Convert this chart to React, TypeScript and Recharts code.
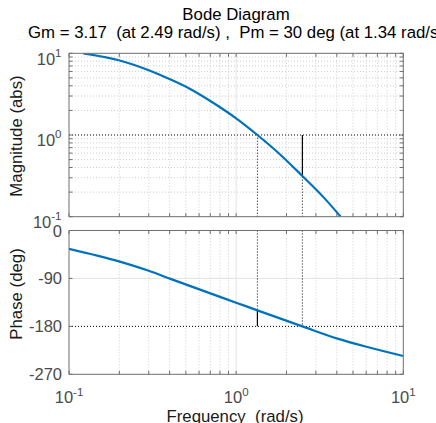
import React from 'react';
import { LineChart, Line, XAxis, YAxis, ReferenceLine } from 'recharts';

// ---- data ----
const magFreq = [0.1216, 0.1986, 0.3, 0.405, 0.534, 0.736, 1.0, 1.34, 1.846, 2.49, 3.36, 4.22];
const magValues = [10, 8.22, 6.2, 4.78, 3.64, 2.45, 1.6, 1.0, 0.57, 0.315, 0.17, 0.1];
const phaseFreq = [0.1, 0.199, 0.3, 0.405, 0.614, 1.0, 1.34, 2.49, 4.04, 6.1, 10];
const phaseValues = [-34.3, -58, -75.7, -90.8, -111.5, -135.5, -150, -180, -203, -218.8, -235.7];

const freqMajorTicks = [0.1, 1, 10];
const freqTickExponents = ['-1', '0', '1'];
const freqMinorTicks = [0.2, 0.3, 0.4, 0.5, 0.6, 0.7, 0.8, 0.9, 2, 3, 4, 5, 6, 7, 8, 9];
const magMajorTicks = [0.1, 1, 10];
const magTickExponents = ['-1', '0', '1'];
const magMinorTicks = [0.2, 0.3, 0.4, 0.5, 0.6, 0.7, 0.8, 0.9, 2, 3, 4, 5, 6, 7, 8, 9];
const phaseTicks = [-270, -180, -90, 0];
const phaseTickLabels = ['-270', '-180', '-90', '0'];

const gainMargin = 3.17;
const gainMarginFreq = 2.49;
const phaseMargin = 30;
const phaseMarginFreq = 1.34;

const titleText = 'Bode Diagram';
const subtitleText = 'Gm = 3.17  (at 2.49 rad/s) ,  Pm = 30 deg (at 1.34 rad/s)';
const magLabel = 'Magnitude (abs)';
const phaseLabel = 'Phase (deg)';
const freqLabel = 'Frequency  (rad/s)';

// ---- styling / layout ----
const FONT = '"Liberation Sans", Arial, Helvetica, sans-serif';
const AXIS = '#6e6e6e';
const TICKTXT = '#4a4a4a';
const BLUE = '#0072BD';
const MINOR_GRID = '#cdcdcd';
const MAJOR_GRID = '#e3e3e3';
const W = 436;
const PL = 69;
const PR = 403.3;
const MAG_T = 53.3;
const MAG_B = 216.7;
const PH_T = 230.5;
const PH_B = 374.3;
const TOP_H = 242;
const BOT_TOP = 210;
const BOT_H = 423 - BOT_TOP;
const TL = 3.5;
const TICK_FS = 16.5;
const SUP_FS = 11.5;

const magData = magFreq.map((w, i) => ({ w, mag: magValues[i] }));
const phaseData = phaseFreq.map((w, i) => ({ w, ph: phaseValues[i] }));
const freqAllTicks = [...freqMajorTicks, ...freqMinorTicks].sort((a, b) => a - b);
const magAllTicks = [...magMajorTicks, ...magMinorTicks].sort((a, b) => a - b);

const freqTick = (side: string, labels: boolean) => (p: any) => {
  const { x, y, payload } = p;
  const mi = freqMajorTicks.indexOf(payload.value);
  const dir = side === 'bottom' ? -1 : 1;
  return (
    <g>
      <line x1={x} x2={x} y1={y} y2={y + dir * TL} stroke={AXIS} strokeWidth={1} />
      {labels && mi >= 0 && (
        <text x={x} y={y + 29} textAnchor="middle" fontFamily={FONT} fontSize={TICK_FS} fill={TICKTXT}>
          <tspan>10</tspan>
          <tspan dy={-7.5} fontSize={SUP_FS}>{freqTickExponents[mi]}</tspan>
        </text>
      )}
    </g>
  );
};

const magTick = (side: string, labels: boolean) => (p: any) => {
  const { x, y, payload } = p;
  const mi = magMajorTicks.indexOf(payload.value);
  const dir = side === 'left' ? 1 : -1;
  return (
    <g>
      <line x1={x} x2={x + dir * TL} y1={y} y2={y} stroke={AXIS} strokeWidth={1} />
      {labels && mi >= 0 && (
        <text x={x - 7.5} y={y + 11.2} textAnchor="end" fontFamily={FONT} fontSize={TICK_FS} fill={TICKTXT}>
          <tspan>10</tspan>
          <tspan dy={-8} fontSize={SUP_FS}>{magTickExponents[mi]}</tspan>
        </text>
      )}
    </g>
  );
};

const phaseTick = (side: string, labels: boolean) => (p: any) => {
  const { x, y, payload } = p;
  const mi = phaseTicks.indexOf(payload.value);
  const dir = side === 'left' ? 1 : -1;
  return (
    <g>
      <line x1={x} x2={x + dir * TL} y1={y} y2={y} stroke={AXIS} strokeWidth={1} />
      {labels && mi >= 0 && (
        <text x={x - 7} y={y + 6} textAnchor="end" fontFamily={FONT} fontSize={TICK_FS} fill={TICKTXT}>
          {phaseTickLabels[mi]}
        </text>
      )}
    </g>
  );
};

const axisLine = { stroke: AXIS, strokeWidth: 1 };

export default function App() {
  return (
    <div style={{ position: 'absolute', left: 0, top: 0, width: W, height: 423, background: '#fff', overflow: 'hidden' }}>
      <svg width={W} height={423} style={{ position: 'absolute', left: 0, top: 0 }}>
        <text x={236} y={20} textAnchor="middle" fontFamily={FONT} fontSize={16.8} fill="#000">{titleText}</text>
        <text x={236} y={37.5} textAnchor="middle" fontFamily={FONT} fontSize={16.8} fill="#000" style={{ whiteSpace: 'pre' }}>{subtitleText}</text>
        <text x={22} y={136} transform="rotate(-90 22 136)" textAnchor="middle" fontFamily={FONT} fontSize={16.8} fill="#1a1a1a">{magLabel}</text>
        <text x={22} y={294} transform="rotate(-90 22 294)" textAnchor="middle" fontFamily={FONT} fontSize={16.8} fill="#1a1a1a">{phaseLabel}</text>
        <text x={235} y={422} textAnchor="middle" fontFamily={FONT} fontSize={16.8} fill="#1a1a1a" style={{ whiteSpace: 'pre' }}>{freqLabel}</text>
      </svg>

      <div style={{ position: 'absolute', left: 0, top: 0 }}>
        <LineChart width={W} height={TOP_H} data={magData} margin={{ top: 0, right: 0, bottom: 0, left: 0 }}>
          <XAxis xAxisId="b" orientation="bottom" dataKey="w" type="number" scale="log" domain={[0.1, 10]} allowDataOverflow
            ticks={freqAllTicks} interval={0} height={TOP_H - MAG_B} tickSize={0} tickMargin={0} tickLine={false}
            axisLine={axisLine} tick={freqTick('bottom', false)} />
          <XAxis xAxisId="t" orientation="top" dataKey="w" type="number" scale="log" domain={[0.1, 10]} allowDataOverflow
            ticks={freqAllTicks} interval={0} height={MAG_T} tickSize={0} tickMargin={0} tickLine={false}
            axisLine={axisLine} tick={freqTick('top', false)} />
          <YAxis yAxisId="l" orientation="left" type="number" scale="log" domain={[0.1, 10]} allowDataOverflow
            ticks={magAllTicks} interval={0} width={PL} tickSize={0} tickMargin={0} tickLine={false}
            axisLine={axisLine} tick={magTick('left', true)} />
          <YAxis yAxisId="r" orientation="right" type="number" scale="log" domain={[0.1, 10]} allowDataOverflow
            ticks={magAllTicks} interval={0} width={W - PR} tickSize={0} tickMargin={0} tickLine={false}
            axisLine={axisLine} tick={magTick('right', false)} />
          {freqMinorTicks.map((v) => (
            <ReferenceLine key={'fx' + v} x={v} xAxisId="b" yAxisId="l" stroke={MINOR_GRID} strokeDasharray="1 2" />
          ))}
          {magMinorTicks.map((v) => (
            <ReferenceLine key={'my' + v} y={v} xAxisId="b" yAxisId="l" stroke={MINOR_GRID} strokeDasharray="1 2" />
          ))}
          <ReferenceLine x={1} xAxisId="b" yAxisId="l" stroke={MAJOR_GRID} />
          <ReferenceLine y={1} xAxisId="b" yAxisId="l" stroke="#000" strokeDasharray="1 2" />
          <ReferenceLine xAxisId="b" yAxisId="l" stroke="#000" strokeDasharray="1 2"
            segment={[{ x: phaseMarginFreq, y: 0.1 }, { x: phaseMarginFreq, y: 1 }]} />
          <ReferenceLine xAxisId="b" yAxisId="l" stroke="#000" strokeDasharray="1 2"
            segment={[{ x: gainMarginFreq, y: 0.1 }, { x: gainMarginFreq, y: 1 / gainMargin }]} />
          <ReferenceLine xAxisId="b" yAxisId="l" stroke="#000" strokeWidth={1.2}
            segment={[{ x: gainMarginFreq, y: 1 / gainMargin }, { x: gainMarginFreq, y: 1 }]} />
          <Line xAxisId="b" yAxisId="l" dataKey="mag" type="monotone" stroke={BLUE} strokeWidth={2.2} dot={false} isAnimationActive={false} />
        </LineChart>
      </div>

      <div style={{ position: 'absolute', left: 0, top: BOT_TOP }}>
        <LineChart width={W} height={BOT_H} data={phaseData} margin={{ top: 0, right: 0, bottom: 0, left: 0 }}>
          <XAxis xAxisId="b" orientation="bottom" dataKey="w" type="number" scale="log" domain={[0.1, 10]} allowDataOverflow
            ticks={freqAllTicks} interval={0} height={423 - PH_B} tickSize={0} tickMargin={0} tickLine={false}
            axisLine={axisLine} tick={freqTick('bottom', true)} />
          <XAxis xAxisId="t" orientation="top" dataKey="w" type="number" scale="log" domain={[0.1, 10]} allowDataOverflow
            ticks={freqAllTicks} interval={0} height={PH_T - BOT_TOP} tickSize={0} tickMargin={0} tickLine={false}
            axisLine={axisLine} tick={freqTick('top', false)} />
          <YAxis yAxisId="l" orientation="left" type="number" domain={[-270, 0]} allowDataOverflow
            ticks={phaseTicks} interval={0} width={PL} tickSize={0} tickMargin={0} tickLine={false}
            axisLine={axisLine} tick={phaseTick('left', true)} />
          <YAxis yAxisId="r" orientation="right" type="number" domain={[-270, 0]} allowDataOverflow
            ticks={phaseTicks} interval={0} width={W - PR} tickSize={0} tickMargin={0} tickLine={false}
            axisLine={axisLine} tick={phaseTick('right', false)} />
          {freqMinorTicks.map((v) => (
            <ReferenceLine key={'px' + v} x={v} xAxisId="b" yAxisId="l" stroke={MINOR_GRID} strokeDasharray="1 2" />
          ))}
          <ReferenceLine x={1} xAxisId="b" yAxisId="l" stroke={MAJOR_GRID} />
          <ReferenceLine y={-90} xAxisId="b" yAxisId="l" stroke={MAJOR_GRID} />
          <ReferenceLine y={-180} xAxisId="b" yAxisId="l" stroke="#000" strokeDasharray="1 2" />
          <ReferenceLine xAxisId="b" yAxisId="l" stroke="#000" strokeDasharray="1 2"
            segment={[{ x: phaseMarginFreq, y: 0 }, { x: phaseMarginFreq, y: -180 + phaseMargin }]} />
          <ReferenceLine xAxisId="b" yAxisId="l" stroke="#000" strokeDasharray="1 2"
            segment={[{ x: gainMarginFreq, y: 0 }, { x: gainMarginFreq, y: -180 }]} />
          <ReferenceLine xAxisId="b" yAxisId="l" stroke="#000" strokeWidth={1.2}
            segment={[{ x: phaseMarginFreq, y: -180 + phaseMargin }, { x: phaseMarginFreq, y: -180 }]} />
          <Line xAxisId="b" yAxisId="l" dataKey="ph" type="monotone" stroke={BLUE} strokeWidth={2.2} dot={false} isAnimationActive={false} />
        </LineChart>
      </div>
    </div>
  );
}
